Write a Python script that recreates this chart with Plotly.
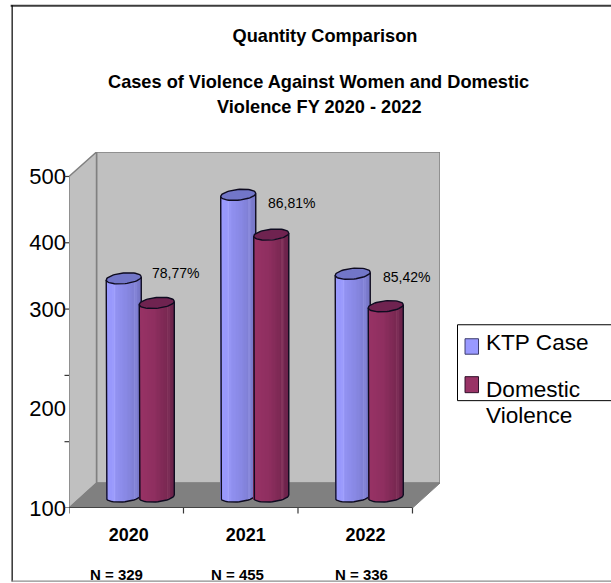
import numpy as np
import plotly.graph_objects as go

YEARS = ["2020", "2021", "2022"]
SAMPLE_LABELS = ["N = 329", "N = 455", "N = 336"]
PERCENT_LABELS = ["78,77%", "86,81%", "85,42%"]
KTP_CASES = [329, 455, 336]
DOMESTIC_VIOLENCE = [292, 395, 287]
Y_TICK_VALUES = [0, 150, 300, 400, 500]
Y_TICK_LABELS = ["100", "200", "300", "400", "500"]
Y_TICK_MARKS = [0, 100, 200, 300, 400, 500]
X_TICK_MARKS = [0, 1, 2, 3]

W, H = 611, 583
LEFT, RIGHT, FRONT, BACK = 69.3, 440.0, 508.5, 152.0
DEPTH_X, DEPTH_Y = 27.5, 25.0
CAT_PX = (RIGHT - DEPTH_X - LEFT) / 3
VAL_PX = 0.664
X_MAX = (RIGHT - LEFT) / CAT_PX
Y_MAX = (FRONT - BACK) / VAL_PX


def xd(px):
    return (px - LEFT) / CAT_PX


def yd(py):
    return (FRONT - py) / VAL_PX


def xp(px):
    return (px - LEFT) / (RIGHT - LEFT)


def yp(py):
    return (FRONT - py) / (FRONT - BACK)


# cylinder geometry, expressed in axis units
RADIUS = 17.5 / CAT_PX
MINOR = 5.4 / VAL_PX
TILT = 1.6 / VAL_PX
FOOT = yd(497)
SPREAD = 16.5 / CAT_PX
MID_OFFSET = 14 / CAT_PX

BLUE_STOPS = [(0.0, "#9a9aff"), (0.2, "#9898fc"), (0.24, "#a4a4ff"), (0.3, "#9292f2"),
              (0.6, "#8888e4"), (0.8, "#8080d6"), (0.84, "#9090e0"), (0.88, "#7c7cd0"), (1.0, "#7777c6")]
MAROON_STOPS = [(0.0, "#993366"), (0.45, "#8f2f60"), (0.8, "#7a2852"), (0.84, "#8a3a62"),
                (0.88, "#732650"), (1.0, "#6a2249")]
BLUE_TOP = "#7276c8"
MAROON_TOP = "#6f2350"
OUTLINE = "#0e0b20"


def hex_rgb(c):
    return [int(c[i:i + 2], 16) for i in (1, 3, 5)]


def ramp(stops, u):
    pos = [s[0] for s in stops]
    rgb = np.array([hex_rgb(s[1]) for s in stops])
    return "rgb(%d,%d,%d)" % tuple(np.interp(u, pos, rgb[:, k]) for k in range(3))


def cylinder_traces(name, values, side, stops, top_color, xaxis, yaxis):
    strips = 26
    sx, sh, sb, sc = [], [], [], []
    ol_x, ol_y, top_x, top_y = [], [], [], []
    t = np.linspace(0, 2 * np.pi, 60)
    for i, v in enumerate(values):
        xc = i + 0.5 + MID_OFFSET + side * SPREAD
        top = v + FOOT
        for j in range(strips):
            u = (j + 0.5) / strips
            c = 2 * u - 1
            # lower rim of the tilted ellipse at this strip
            rim = -MINOR * np.sqrt(1 - c * c) + TILT * c
            sx.append(xc + c * RADIUS)
            sb.append(FOOT + rim)
            sh.append(v)
            sc.append(ramp(stops, u))
        # silhouette: down the left side, along the bottom rim, up the right side
        theta = np.linspace(np.pi, 2 * np.pi, 24)
        bx = xc + RADIUS * np.cos(theta)
        by = FOOT + MINOR * np.sin(theta) + TILT * np.cos(theta)
        ol_x += [xc - RADIUS] + list(bx) + [xc + RADIUS, None]
        ol_y += [top - TILT] + list(by) + [top + TILT, None]
        top_x += list(xc + RADIUS * np.cos(t)) + [None]
        top_y += list(top + MINOR * np.sin(t) + TILT * np.cos(t)) + [None]
    body = go.Bar(name=name, x=sx, y=sh, base=sb, width=2.6 * RADIUS / strips,
                  marker=dict(color=sc, line=dict(width=0)), showlegend=False,
                  hoverinfo="skip", xaxis=xaxis, yaxis=yaxis)
    edge = go.Scatter(x=ol_x, y=ol_y, mode="lines", line=dict(color=OUTLINE, width=1.4),
                      showlegend=False, hoverinfo="skip", xaxis=xaxis, yaxis=yaxis)
    cap = go.Scatter(x=top_x, y=top_y, mode="lines", fill="toself", fillcolor=top_color,
                     line=dict(color=OUTLINE, width=1.4), showlegend=False,
                     hoverinfo="skip", xaxis=xaxis, yaxis=yaxis)
    return [body, edge, cap]


fig = go.Figure()
for tr in cylinder_traces("KTP Case", KTP_CASES, -1, BLUE_STOPS, BLUE_TOP, "x", "y"):
    fig.add_trace(tr)
# the second series sits on an overlaid subplot so it paints over the first
for tr in cylinder_traces("Domestic Violence", DOMESTIC_VIOLENCE, 1, MAROON_STOPS, MAROON_TOP, "x2", "y2"):
    fig.add_trace(tr)

# chart box: side wall, back wall and floor
dx, dy = xd(LEFT + DEPTH_X), DEPTH_Y / VAL_PX
y_top = yd(FRONT - 332)
wall_shapes = [
    dict(type="path", xref="x", yref="y", layer="below", fillcolor="#c0c0c0",
         line=dict(color="#808080", width=1.5),
         path=f"M {dx},{dy} L {X_MAX},{dy} L {X_MAX},{Y_MAX} L {dx},{Y_MAX} Z"),
    dict(type="path", xref="x", yref="y", layer="below", fillcolor="#c0c0c0",
         line=dict(color="#808080", width=1.5),
         path=f"M 0,0 L {dx},{dy} L {dx},{Y_MAX} L 0,{y_top} Z"),
    dict(type="path", xref="x", yref="y", layer="below", fillcolor="#808080",
         line=dict(color="#808080", width=1),
         path=f"M 0,0 L 3,0 L {X_MAX},{dy} L {dx},{dy} Z"),
    dict(type="line", xref="x", yref="y", layer="below", x0=0, x1=3, y0=0, y1=0,
         line=dict(color="#303030", width=1.6)),
]

# tick marks on both value and category axes
tick_shapes = [
    dict(type="line", xref="paper", yref="y", x0=xp(LEFT - 4.5), x1=xp(LEFT), y0=v, y1=v,
         line=dict(color="#383838", width=1.2))
    for v in Y_TICK_MARKS
] + [
    dict(type="line", xref="x", yref="paper", x0=v, x1=v, y0=yp(FRONT), y1=yp(FRONT + 5.5),
         line=dict(color="#383838", width=1.2))
    for v in X_TICK_MARKS
]

# outer frame and legend box
frame_shapes = [
    dict(type="line", xref="paper", yref="paper", x0=xp(11), x1=xp(W + 2), y0=yp(5.5), y1=yp(5.5),
         line=dict(color="#3c3c3c", width=2)),
    dict(type="line", xref="paper", yref="paper", x0=xp(12.5), x1=xp(12.5), y0=yp(5), y1=yp(582),
         line=dict(color="#000000", width=1.2)),
    dict(type="line", xref="paper", yref="paper", x0=xp(12), x1=xp(W + 2), y0=yp(581.7), y1=yp(581.7),
         line=dict(color="#8c8c8c", width=1.2)),
    dict(type="rect", xref="paper", yref="paper", x0=xp(457.5), x1=xp(W + 5), y0=yp(325), y1=yp(401),
         fillcolor="#ffffff", line=dict(color="#000000", width=1)),
    dict(type="rect", xref="paper", yref="paper", x0=xp(465), x1=xp(478.5), y0=yp(339), y1=yp(354.5),
         fillcolor="#9999ff", line=dict(color="#3c3c6c", width=1)),
    dict(type="rect", xref="paper", yref="paper", x0=xp(465), x1=xp(478.5), y0=yp(377), y1=yp(393),
         fillcolor="#993366", line=dict(color="#30102a", width=1)),
]

FONT = "Liberation Sans, Arial, sans-serif"


def note(text, x, y, size, bold=False, anchor="center", xanchor="center"):
    return dict(text=f"<b>{text}</b>" if bold else text, x=xp(x), y=yp(y), xref="paper", yref="paper",
                showarrow=False, font=dict(family=FONT, size=size, color="#000000"),
                xanchor=xanchor, yanchor="middle", align=anchor)


annotations = [
    note("Cases of Violence Against Women and Domestic", 319, 82, 18.2, True),
    note("Violence FY 2020 - 2022", 320, 107, 18.2, True),
    note("KTP Case", 484, 343, 22.6, xanchor="left"),
    note("Domestic", 484, 390, 22.6, xanchor="left"),
    note("Violence", 484, 416, 22.6, xanchor="left"),
]
for label, cx in zip(SAMPLE_LABELS, [117, 238, 362]):
    annotations.append(note(label, cx, 575, 15, True))
for label, cx, cy in zip(PERCENT_LABELS, [176, 292, 407], [273, 203, 277]):
    annotations.append(note(label, cx, cy, 14))

fig.update_layout(
    width=W, height=H, autosize=False,
    margin=dict(l=LEFT, r=W - RIGHT, t=BACK, b=H - FRONT, pad=0),
    paper_bgcolor="#ffffff", plot_bgcolor="rgba(0,0,0,0)",
    barmode="overlay", bargap=0, showlegend=False,
    title=dict(text="<b>Quantity Comparison</b>", x=325 / W, xanchor="center", y=1 - 36 / H, yanchor="middle",
               font=dict(family=FONT, size=18.2, color="#000000")),
    shapes=wall_shapes + tick_shapes + frame_shapes,
    annotations=annotations,
    xaxis=dict(range=[0, X_MAX], showgrid=False, zeroline=False, showline=False,
               tickmode="array", tickvals=[xd(129), xd(246), xd(365.5)], ticktext=YEARS, ticks="",
               ticklen=0, ticklabelstandoff=14, tickfont=dict(family=FONT, size=18, color="#000000", weight="bold")),
    yaxis=dict(range=[0, Y_MAX], showgrid=False, zeroline=False, showline=False,
               tickmode="array", tickvals=Y_TICK_VALUES, ticktext=Y_TICK_LABELS, ticks="", ticklen=0,
               ticklabelstandoff=2, tickfont=dict(family=FONT, size=22, color="#000000")),
    xaxis2=dict(range=[0, X_MAX], overlaying="x", visible=False),
    yaxis2=dict(range=[0, Y_MAX], overlaying="y", visible=False),
)

fig.write_html("out.html", config=dict(displayModeBar=False))
